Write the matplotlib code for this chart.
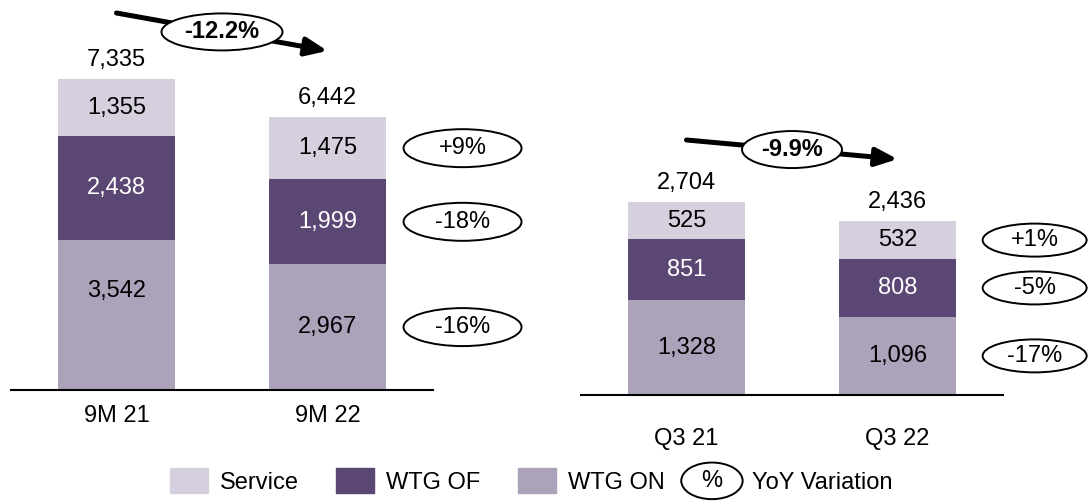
import matplotlib
matplotlib.use('Agg')
import matplotlib.pyplot as plt
from matplotlib.patches import Ellipse, Patch
from matplotlib.transforms import ScaledTranslation
from matplotlib.legend_handler import HandlerBase
from matplotlib.text import Text

plt.rcParams['font.family'] = ['Liberation Sans', 'DejaVu Sans']

# 9M figures
periods_9m = ['9M 21', '9M 22']
service_9m = [1355, 1475]
wtg_of_9m = [2438, 1999]
wtg_on_9m = [3542, 2967]
total_9m = [7335, 6442]
yoy_9m = ['+9%', '-18%', '-16%']  # service, wtg of, wtg on
growth_9m = '-12.2%'

# Q3 figures
periods_q3 = ['Q3 21', 'Q3 22']
service_q3 = [525, 532]
wtg_of_q3 = [851, 808]
wtg_on_q3 = [1328, 1096]
total_q3 = [2704, 2436]
yoy_q3 = ['+1%', '-5%', '-17%']
growth_q3 = '-9.9%'

c_service = '#d6d0de'
c_of = '#5b4773'
c_on = '#aca2ba'

FS = 17
DPI = 100
W, H = 1089, 501
fig = plt.figure(figsize=(W / DPI, H / DPI), dpi=DPI)


def px_axes(left, top, right, bottom):
    return fig.add_axes([left / W, 1 - bottom / H, (right - left) / W, (bottom - top) / H])


def oval(ax, x, y, w, h, text, dy=0, weight='normal'):
    # ellipse of fixed pixel size placed at a data position
    tr = fig.dpi_scale_trans + ScaledTranslation(x, y, ax.transData)
    fig.add_artist(Ellipse((0, dy / DPI), w / DPI, h / DPI, transform=tr,
                           facecolor='white', edgecolor='black', lw=1.4, zorder=5))
    fig.text(0, dy / DPI, text, transform=tr, ha='center', va='center',
             fontsize=FS, fontweight=weight, zorder=6)


def panel(ax, cats, on, of, svc, tot, ymax, yoy, growth, lift, label_pad,
          yoy_x, yoy_w, yoy_h, growth_w, on_shift=(0, 0)):
    x = [0, 1]
    bw = 0.555
    ax.bar(x, on, bw, color=c_on)
    ax.bar(x, of, bw, bottom=on, color=c_of)
    base = [a + b for a, b in zip(on, of)]
    ax.bar(x, svc, bw, bottom=base, color=c_service)

    for i in x:
        ax.annotate(f'{on[i]:,}', (i, on[i] / 2), xytext=(0, on_shift[i]),
                    textcoords='offset pixels', ha='center', va='center', fontsize=FS)
        ax.text(i, on[i] + of[i] / 2, f'{of[i]:,}', ha='center', va='center',
                fontsize=FS, color='white')
        ax.text(i, base[i] + svc[i] / 2, f'{svc[i]:,}', ha='center', va='center', fontsize=FS)
        ax.annotate(f'{tot[i]:,}', (i, tot[i]), xytext=(0, 19), textcoords='offset pixels',
                    ha='center', va='center', fontsize=FS)

    # YoY ovals next to the second bar
    mids = [base[1] + svc[1] / 2, on[1] + of[1] / 2, on[1] / 2]
    for m, t in zip(mids, yoy):
        oval(ax, yoy_x, m, yoy_w, yoy_h, t)

    # growth arrow between the totals
    up = ax.transData + ScaledTranslation(0, lift / DPI, fig.dpi_scale_trans)
    ax.annotate('', xy=(1, tot[1]), xycoords=up, xytext=(0, tot[0]), textcoords=up,
                arrowprops=dict(arrowstyle='-|>,head_length=1.3,head_width=0.55',
                                lw=3.6, color='black', shrinkA=0, shrinkB=0,
                                mutation_scale=10),
                annotation_clip=False)
    oval(ax, 0.5, (tot[0] + tot[1]) / 2, growth_w, 37, growth, dy=lift, weight='bold')

    ax.set_ylim(0, ymax)
    ax.set_xlim(-0.5, 1.5)
    ax.set_xticks(x, cats)
    ax.tick_params(axis='x', length=0, pad=label_pad, labelsize=FS)
    ax.set_yticks([])
    for s in ['top', 'left', 'right']:
        ax.spines[s].set_visible(False)
    ax.spines['bottom'].set_linewidth(1.5)
    ax.patch.set_alpha(0)


ax1 = px_axes(11, 0, 433, 390)
ax2 = px_axes(581, 0, 1003, 395)
panel(ax1, periods_9m, wtg_on_9m, wtg_of_9m, service_9m, total_9m, 390 / 0.0424,
      yoy_9m, growth_9m, 66, 11, 1.64, 118, 38, 121, on_shift=(24, 0))
panel(ax2, periods_q3, wtg_on_q3, wtg_of_q3, service_q3, total_q3, 395 / 0.07138,
      yoy_q3, growth_q3, 62, 24, 1.65, 104, 33, 100)


class OvalHandler(HandlerBase):
    def create_artists(self, legend, orig_handle, xdescent, ydescent, width, height,
                       fontsize, trans):
        ew, eh = 2.6 * fontsize, 1.55 * fontsize
        cx = width - xdescent - ew / 2 + 2
        cy = height / 2 - ydescent
        e = Ellipse((cx, cy), ew, eh, facecolor='white', edgecolor='black', lw=1.4,
                    transform=trans)
        t = Text(cx, cy, '%', ha='center', va='center', fontsize=fontsize, transform=trans)
        return [e, t]


oval_handle = Patch()
handles = [Patch(color=c_service), Patch(color=c_of), Patch(color=c_on), oval_handle]
labels = ['Service', 'WTG OF', 'WTG ON', 'YoY Variation']
fig.legend(handles, labels, loc='center left', bbox_to_anchor=(170 / W, (H - 481) / H),
           ncol=4, frameon=False, fontsize=FS, borderpad=0, borderaxespad=0,
           handlelength=1.6, handleheight=1.27, handletextpad=0.5, columnspacing=1.6,
           handler_map={oval_handle: OvalHandler()})

fig.savefig('out.png', dpi=DPI)
